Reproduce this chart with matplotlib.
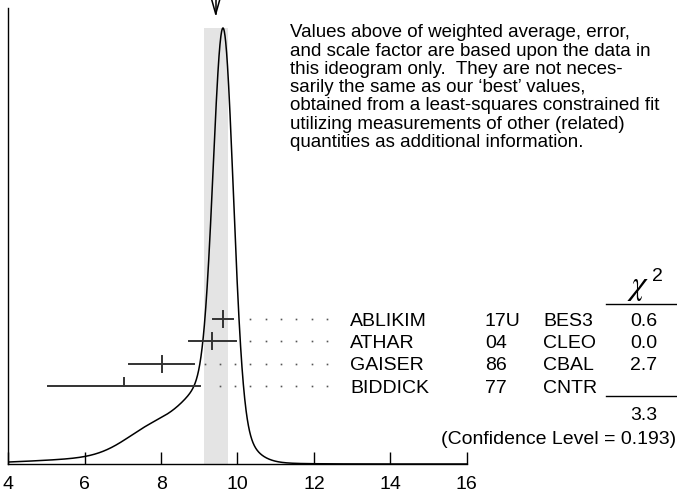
import numpy as np
import matplotlib
matplotlib.use("Agg")
import matplotlib.pyplot as plt
from matplotlib.lines import Line2D

plt.rcParams['font.family'] = ['Liberation Sans', 'DejaVu Sans']

# ---- data ----
names = ["ABLIKIM", "ATHAR", "GAISER", "BIDDICK"]
years = ["17U", "04", "86", "77"]
exps = ["BES3", "CLEO", "CBAL", "CNTR"]
values = [9.63, 9.34, 8.02, 7.03]
errors = [0.26, 0.62, 0.85, 2.0]
chi2 = ["0.6", "0.0", "2.7", ""]
chi2_total = "3.3"
conf_level = "(Confidence Level = 0.193)"
avg = 9.43
avg_err = 0.31
xticks = [4, 6, 8, 10, 12, 14, 16]
note = ["Values above of weighted average, error,",
        "and scale factor are based upon the data in",
        "this ideogram only.  They are not neces-",
        "sarily the same as our \u2018best\u2019 values,",
        "obtained from a least-squares constrained fit",
        "utilizing measurements of other (related)",
        "quantities as additional information."]

W, H = 677, 492
fig = plt.figure(figsize=(W / 100, H / 100), dpi=100)

def fx(px):
    return px / W

def fy(py):
    return 1 - py / H

ax_l, ax_r, ax_b, ax_t = 8.3, 466.7, 464, 8
ax = fig.add_axes([fx(ax_l), fy(ax_b), fx(ax_r) - fx(ax_l), fy(ax_t) - fy(ax_b)])
ax.set_xlim(4, 16)
ax.set_ylim(0, ax_b - ax_t)  # y in pixel-like units above bottom axis

for s in ['top', 'right']:
    ax.spines[s].set_visible(False)
for s in ['left', 'bottom']:
    ax.spines[s].set_linewidth(1.0)
ax.set_yticks([])
ax.set_xticks(xticks)
ax.set_xticklabels([str(t) for t in xticks], fontsize=14)
ax.tick_params(axis='x', direction='in', length=9, width=1.0, pad=8.5)

# ideogram curve
x = np.linspace(4, 16, 2000)
curve = np.zeros_like(x)
for v, e in zip(values, errors):
    curve += (1 / e ** 2) * np.exp(-0.5 * ((x - v) / e) ** 2)
peak_h = ax_b - 28
curve = curve / curve.max() * peak_h

# shaded band
ax.fill_between([avg - avg_err, avg + avg_err], 0, peak_h, color='#e4e4e4', lw=0, zorder=1)
ax.plot(x, curve, color='black', lw=1.1, zorder=3)

# arrow at top
arr_tip = ax_b - 14
arr_top = ax_b + 2
half_w = 4.5 / ((ax_r - ax_l) / 12)
ax.plot([avg, avg], [arr_tip, arr_top], color='black', lw=1.1, clip_on=False, zorder=4)
ax.plot([avg - half_w, avg, avg + half_w], [arr_top, arr_tip, arr_top], color='black',
        lw=1.1, clip_on=False, zorder=4)

# measurements
row0 = ax_b - 319
row_step = 22.3
tick_h = 8
dot_x = 12.34 - 0.4 * np.arange(9)
for i, (v, e) in enumerate(zip(values, errors)):
    y = row0 - i * row_step
    ax.plot([v - e, v + e], [y, y], color='#333333', lw=1.4, zorder=4)
    if i < 3:
        ax.plot([v, v], [y - tick_h, y + tick_h], color='#333333', lw=1.4, zorder=4)
    else:
        ax.plot([v, v], [y, y + tick_h], color='#333333', lw=1.4, zorder=4)
    dx = dot_x[dot_x > v + e + 0.2]
    ax.plot(dx, [y] * len(dx), ls='none', marker='s', ms=1.2, mec='none', mfc='#555555',
            clip_on=False, zorder=4)
    py = 319 + i * row_step + 6.7
    fig.text(fx(350), fy(py), names[i], fontsize=14, va='baseline', ha='left')
    fig.text(fx(485), fy(py), years[i], fontsize=14, va='baseline', ha='left')
    fig.text(fx(543), fy(py), exps[i], fontsize=14, va='baseline', ha='left')
    if chi2[i]:
        fig.text(fx(644), fy(py), chi2[i], fontsize=14, va='baseline', ha='center')

# chi2 header and lines
fig.text(fx(638), fy(294), r"$\chi$", fontsize=24, va='baseline', ha='center',
         math_fontfamily='stix')
fig.text(fx(657), fy(281), "2", fontsize=14, va='baseline', ha='center')
fig.add_artist(Line2D([fx(606), fx(677)], [fy(304), fy(304)], color='black', lw=1.0))
fig.add_artist(Line2D([fx(606), fx(677)], [fy(396), fy(396)], color='black', lw=1.0))
fig.text(fx(644), fy(419.5), chi2_total, fontsize=14, va='baseline', ha='center')
fig.text(fx(676), fy(443.5), conf_level, fontsize=14, va='baseline', ha='right')

# note
for k, line in enumerate(note):
    fig.text(fx(290.5), fy(37.3 + k * 18.3), line, fontsize=13.5, va='baseline', ha='left')

fig.savefig("out.png", dpi=100)
